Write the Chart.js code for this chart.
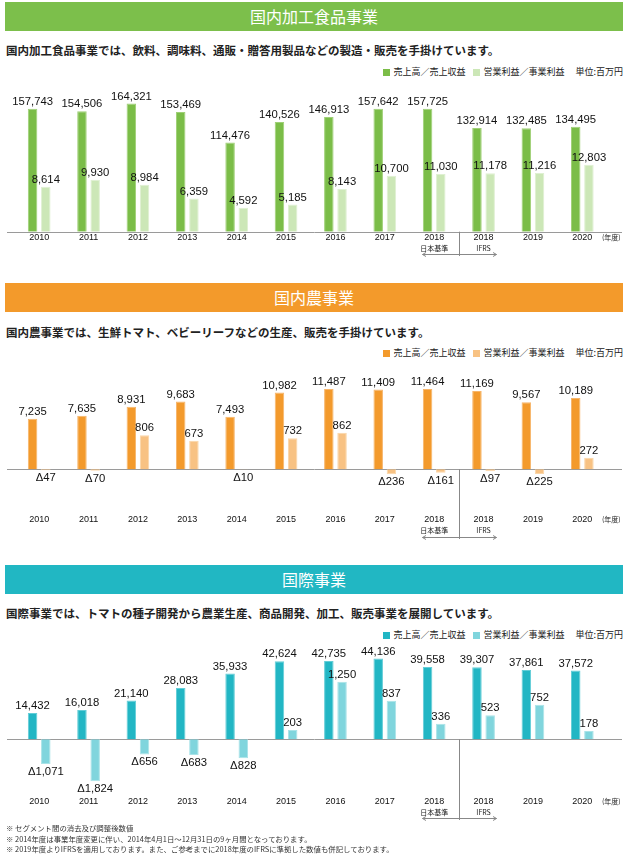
<!DOCTYPE html>
<html lang="ja">
<head>
<meta charset="utf-8">
<title>セグメント別業績</title>
<script src="https://cdn.jsdelivr.net/npm/chart.js@4.4.1/dist/chart.umd.min.js"></script>
<style>
  body { margin: 0; width: 624px; height: 855px; background: #fff; position: relative; overflow: hidden;
         font-family: "Noto Sans CJK JP", "Noto Sans", sans-serif; color: #222; }
  .banner { position: absolute; left: 5px; width: 618px; height: 29px; line-height: 29px;
            color: #fff; font-size: 16px; text-align: center; }
  .desc { position: absolute; left: 6px; font-size: 11.5px; font-weight: bold; line-height: 14px; white-space: nowrap; }
  .legend { position: absolute; right: 1px; font-size: 9px; line-height: 10px; white-space: nowrap; }
  .legend i { display: inline-block; width: 7px; height: 7px; margin: 0 3px 0 8px; vertical-align: -0.5px; }
  .legend .unit { margin-left: 11px; }
  canvas { position: absolute; left: 0; }
  .notes { position: absolute; left: 6px; top: 823px; font-size: 7.4px; line-height: 10.6px; color: #333; white-space: nowrap; }
</style>
</head>
<body>

<div class="banner" style="top:2px;background:#7cbf4b">国内加工食品事業</div>
<div class="desc" style="top:43px">国内加工食品事業では、飲料、調味料、通販・贈答用製品などの製造・販売を手掛けています。</div>
<div class="legend" style="top:67px"><i style="background:#7bbd48"></i>売上高／売上収益<i style="background:#cce7b7"></i>営業利益／事業利益<span class="unit">単位:百万円</span></div>
<canvas id="food" width="624" height="180" style="top:85px"></canvas>

<div class="banner" style="top:283px;background:#f39a2b">国内農事業</div>
<div class="desc" style="top:325px">国内農事業では、生鮮トマト、ベビーリーフなどの生産、販売を手掛けています。</div>
<div class="legend" style="top:348px"><i style="background:#f39a2c"></i>売上高／売上収益<i style="background:#f8c283"></i>営業利益／事業利益<span class="unit">単位:百万円</span></div>
<canvas id="farm" width="624" height="175" style="top:370px"></canvas>

<div class="banner" style="top:565px;background:#21b7c3">国際事業</div>
<div class="desc" style="top:606px">国際事業では、トマトの種子開発から農業生産、商品開発、加工、販売事業を展開しています。</div>
<div class="legend" style="top:630px"><i style="background:#22b6c4"></i>売上高／売上収益<i style="background:#80d5dd"></i>営業利益／事業利益<span class="unit">単位:百万円</span></div>
<canvas id="intl" width="624" height="190" style="top:640px"></canvas>

<div class="notes">
  ※ セグメント間の消去及び調整後数値<br>
  ※ 2014年度は事業年度変更に伴い、2014年4月1日～12月31日の9ヶ月間となっております。<br>
  ※ 2019年度よりIFRSを適用しております。また、ご参考までに2018年度のIFRSに準拠した数値も併記しております。
</div>

<script>
// years (2018 twice: Japanese GAAP / IFRS)
var years = ['2010', '2011', '2012', '2013', '2014', '2015', '2016', '2017', '2018', '2018', '2019', '2020'];
var subLabels = ['', '', '', '', '', '', '', '', '日本基準', 'IFRS', '', ''];

// 国内加工食品事業
var foodSales  = [157743, 154506, 164321, 153469, 114476, 140526, 146913, 157642, 157725, 132914, 132485, 134495];
var foodProfit = [8614, 9930, 8984, 6359, 4592, 5185, 8143, 10700, 11030, 11178, 11216, 12803];

// 国内農事業
var farmSales  = [7235, 7635, 8931, 9683, 7493, 10982, 11487, 11409, 11464, 11169, 9567, 10189];
var farmProfit = [-47, -70, 806, 673, -10, 732, 862, -236, -161, -97, -225, 272];

// 国際事業
var intlSales  = [14432, 16018, 21140, 28083, 35933, 42624, 42735, 44136, 39558, 39307, 37861, 37572];
var intlProfit = [-1071, -1824, -656, -683, -828, 203, 1250, 837, 336, 523, 752, 178];

var numFont = '11.3px "Liberation Sans", Arial, sans-serif';
var tickFont = { family: '"Liberation Sans Narrow", "Liberation Sans", Arial, sans-serif', size: 9 };

function fmt(v) {
    var s = Math.abs(v).toLocaleString('en-US');
    return v < 0 ? 'Δ' + s : s;
}

// gray zero line running across the whole panel
var zeroLine = {
    id: 'zeroLine',
    beforeDatasetsDraw: function (chart) {
        var ctx = chart.ctx;
        var y0 = Math.round(chart.scales.y.getPixelForValue(0)) + 0.5;
        ctx.save();
        ctx.strokeStyle = '#9a9a9a';
        ctx.lineWidth = 1;
        ctx.beginPath();
        ctx.moveTo(7, y0);
        ctx.lineTo(622, y0);
        ctx.stroke();
        ctx.restore();
    }
};

// value labels above / below each bar
var valueLabels = {
    id: 'valueLabels',
    afterDatasetsDraw: function (chart) {
        var ctx = chart.ctx;
        ctx.save();
        ctx.font = numFont;
        ctx.fillStyle = '#111';
        ctx.textAlign = 'center';
        ctx.textBaseline = 'middle';
        chart.data.datasets.forEach(function (ds, i) {
            chart.getDatasetMeta(i).data.forEach(function (bar, j) {
                var v = ds.data[j];
                if (v === null || v === undefined) return;
                ctx.fillText(fmt(v), bar.x, v < 0 ? bar.y + 8 : bar.y - 7);
            });
        });
        ctx.restore();
    }
};

// 2018 split: divider, arrow, sub labels, (年度)
var splitMarker = {
    id: 'splitMarker',
    afterDraw: function (chart) {
        var ctx = chart.ctx;
        var x = chart.scales.x;
        var a = x.getPixelForValue(8), b = x.getPixelForValue(9);
        var mid = Math.round((a + b) / 2) + 0.5;
        var half = (b - a) * 0.75;
        var zero = chart.scales.y.getPixelForValue(0);
        var labelY = x.top + 5.4;
        var arrowY = Math.round(labelY + 17) + 0.5;

        ctx.save();
        ctx.strokeStyle = '#888';
        ctx.lineWidth = 1;
        ctx.beginPath();
        ctx.moveTo(mid, zero);
        ctx.lineTo(mid, arrowY + 1.5);
        ctx.moveTo(mid - half, arrowY);
        ctx.lineTo(mid + half, arrowY);
        ctx.moveTo(mid - half + 3.5, arrowY - 2);
        ctx.lineTo(mid - half, arrowY);
        ctx.lineTo(mid - half + 3.5, arrowY + 2);
        ctx.moveTo(mid + half - 3.5, arrowY - 2);
        ctx.lineTo(mid + half, arrowY);
        ctx.lineTo(mid + half - 3.5, arrowY + 2);
        ctx.stroke();

        ctx.fillStyle = '#222';
        ctx.textBaseline = 'middle';
        ctx.textAlign = 'center';
        ctx.font = '7px "Noto Sans CJK JP", sans-serif';
        subLabels.forEach(function (s, i) {
            if (s) ctx.fillText(s, x.getPixelForValue(i), labelY + 11);
        });
        ctx.textAlign = 'left';
        ctx.fillText('(年度)', chart.chartArea.right - 5, labelY);
        ctx.restore();
    }
};

function makeChart(id, sales, profit, colors, ranges, top, axisHeight) {
    var profitPos = profit.map(function (v) { return v >= 0 ? v : null; });
    var profitNeg = profit.map(function (v) { return v < 0 ? v : null; });
    return new Chart(document.getElementById(id), {
        type: 'bar',
        data: {
            labels: years,
            datasets: [
                { label: '売上高／売上収益', data: sales, stack: 's', yAxisID: 'y',
                  backgroundColor: colors[0], borderColor: colors[1] },
                { label: '営業利益／事業利益', data: profitPos, stack: 'p', yAxisID: 'yp',
                  backgroundColor: colors[2], borderColor: colors[3] },
                // losses are drawn at half the scale, as in the original
                { label: '営業利益／事業利益', data: profitNeg, stack: 'p', yAxisID: 'yn',
                  backgroundColor: colors[2], borderColor: colors[3] }
            ]
        },
        options: {
            responsive: false,
            animation: false,
            layout: { padding: { left: 14.5, right: 17, top: top, bottom: 0 } },
            datasets: { bar: { categoryPercentage: 0.535, barPercentage: 0.72, borderWidth: 1 } },
            plugins: { legend: { display: false }, tooltip: { enabled: false } },
            scales: {
                x: {
                    grid: { display: false, drawTicks: false, tickLength: 0 },
                    border: { display: false },
                    ticks: { font: tickFont, color: '#111', padding: 0, maxRotation: 0, autoSkip: false },
                    afterFit: function (axis) { axis.height = axisHeight; }
                },
                y:  { display: false, min: ranges.sales[0], max: ranges.sales[1] },
                yp: { display: false, min: ranges.profit[0], max: ranges.profit[1] },
                yn: { display: false, min: ranges.profit[0] * 2, max: ranges.profit[1] * 2 }
            }
        },
        plugins: [zeroLine, valueLabels, splitMarker]
    });
}

makeChart('food', foodSales, foodProfit,
    ['#7bbd48', '#9fd076', '#cce7b7', '#dff0d2'],
    { sales: [0, 168800], profit: [0, 25180] }, 15, 33.3);

makeChart('farm', farmSales, farmProfit,
    ['#f39a2c', '#f7b56a', '#f8c283', '#fbd6a8'],
    { sales: [-6430, 12186], profit: [-1064, 2017] }, 14, 30.7);

makeChart('intl', intlSales, intlProfit,
    ['#22b6c4', '#62cdd7', '#80d5dd', '#a9e3e8'],
    { sales: [-30984, 47705], profit: [-1233, 1898] }, 12, 34);
</script>
</body>
</html>
